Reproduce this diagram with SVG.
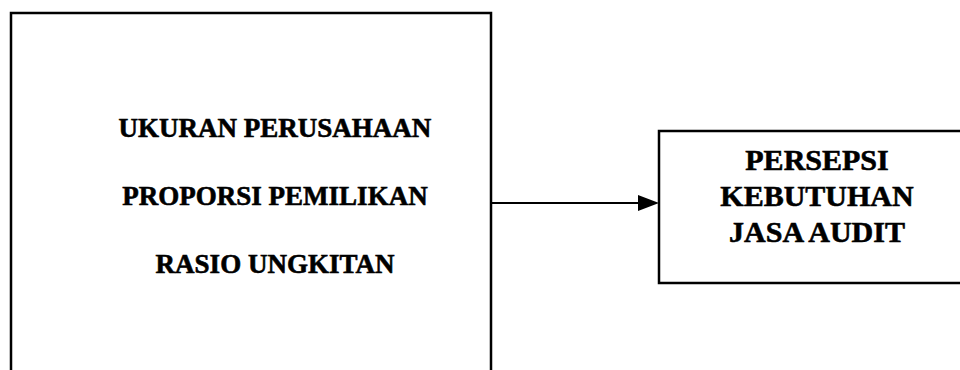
<svg xmlns="http://www.w3.org/2000/svg" width="960" height="370" viewBox="0 0 960 370">
<style>
.box{fill:#fff;stroke:#000;stroke-width:2.5}
.t{font-family:"Liberation Serif","Times New Roman",serif;font-weight:bold;fill:#000;stroke:#000;stroke-width:0.6;text-anchor:middle}
.l{font-size:27px}
.r{font-size:30px}
.c{stroke:#000;stroke-width:2;fill:none}
</style>
<rect width="960" height="370" fill="#fff"/>
<g id="node-left">
<path class="box" d="M11,380 V13 H491 V380"/>
<text class="t l" x="275" y="137">UKURAN PERUSAHAAN</text>
<text class="t l" x="275" y="205">PROPORSI PEMILIKAN</text>
<text class="t l" x="275" y="273">RASIO UNGKITAN</text>
</g>
<g id="node-right">
<path class="box" d="M970,131 H659 V283 H970"/>
<text class="t r" x="817" y="170">PERSEPSI</text>
<text class="t r" x="817" y="206">KEBUTUHAN</text>
<text class="t r" x="817" y="242">JASA AUDIT</text>
</g>
<g id="connectors">
<line class="c" x1="491" y1="203" x2="638" y2="203"/>
<path d="M638,195 L659,203 L638,211 Z" fill="#000"/>
</g>
</svg>
